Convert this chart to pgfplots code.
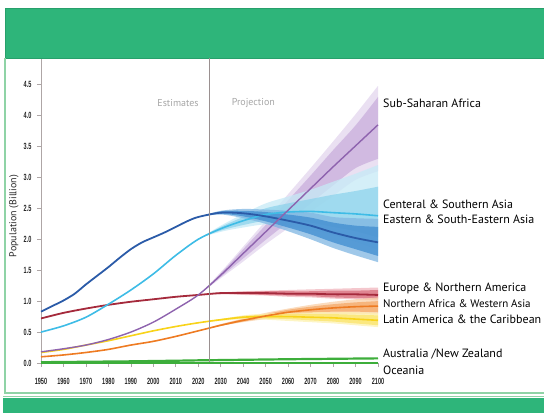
\documentclass[border=0pt]{standalone}
\usepackage{pgfplots}
\pgfplotsset{compat=1.18}
\usepackage{pgfplotstable}
\usepgfplotslibrary{fillbetween}
\usepackage{fontspec}
\setmainfont{PT Sans}
\newfontfamily\tickfont{Liberation Sans}
\definecolor{hdr}{HTML}{2EB57A}
\definecolor{hdrdark}{HTML}{27A06B}
\definecolor{frm}{HTML}{8FD3A6}
\definecolor{pl}{HTML}{8E63AE}\definecolor{pa}{HTML}{C9AEDC}\definecolor{pb}{HTML}{E3D5EE}
\definecolor{cl}{HTML}{3EBCE6}\definecolor{ca}{HTML}{8ED3EC}\definecolor{cb}{HTML}{C6EAF6}
\definecolor{el}{HTML}{2B5BA8}\definecolor{ea}{HTML}{3F8CD0}\definecolor{eb}{HTML}{7FB6E2}
\definecolor{rl}{HTML}{A52A3C}\definecolor{ra}{HTML}{D9707E}\definecolor{rb}{HTML}{F0B4BC}
\definecolor{ol}{HTML}{EE7B22}\definecolor{oa}{HTML}{F4A868}\definecolor{ob}{HTML}{F9D0A8}
\definecolor{yl}{HTML}{F8D31A}\definecolor{ya}{HTML}{FBE46A}\definecolor{yb}{HTML}{FDF1B0}
\definecolor{gl}{HTML}{3DAE3B}
\definecolor{vline}{HTML}{9A9090}

% year med lo80 hi80 lo95 hi95
\pgfplotstableread{
year med lo80 hi80 lo95 hi95
1950 0.83 0.83 0.83 0.83 0.83
1955 0.92 0.92 0.92 0.92 0.92
1960 1.01 1.01 1.01 1.01 1.01
1965 1.12 1.12 1.12 1.12 1.12
1970 1.27 1.27 1.27 1.27 1.27
1975 1.41 1.41 1.41 1.41 1.41
1980 1.55 1.55 1.55 1.55 1.55
1985 1.70 1.70 1.70 1.70 1.70
1990 1.84 1.84 1.84 1.84 1.84
1995 1.95 1.95 1.95 1.95 1.95
2000 2.03 2.03 2.03 2.03 2.03
2005 2.11 2.11 2.11 2.11 2.11
2010 2.20 2.20 2.20 2.20 2.20
2015 2.29 2.29 2.29 2.29 2.29
2020 2.36 2.36 2.36 2.36 2.36
2030 2.43 2.41 2.45 2.40 2.46
2040 2.42 2.37 2.46 2.34 2.49
2050 2.37 2.29 2.44 2.25 2.48
2060 2.30 2.19 2.40 2.13 2.46
2070 2.22 2.08 2.35 2.00 2.43
2080 2.11 1.95 2.27 1.86 2.36
2090 2.02 1.84 2.22 1.74 2.34
2100 1.95 1.73 2.20 1.63 2.33
}\tE
\pgfplotstableread{
year med lo80 hi80 lo95 hi95
1950 0.50 0.50 0.50 0.50 0.50
1960 0.60 0.60 0.60 0.60 0.60
1970 0.74 0.74 0.74 0.74 0.74
1980 0.95 0.95 0.95 0.95 0.95
1990 1.18 1.18 1.18 1.18 1.18
2000 1.44 1.44 1.44 1.44 1.44
2010 1.74 1.74 1.74 1.74 1.74
2020 2.00 2.00 2.00 2.00 2.00
2030 2.17 2.14 2.20 2.12 2.22
2040 2.30 2.23 2.36 2.19 2.41
2050 2.40 2.30 2.50 2.24 2.58
2060 2.44 2.30 2.58 2.21 2.69
2070 2.45 2.27 2.65 2.15 2.80
2080 2.43 2.20 2.72 2.07 2.93
2090 2.41 2.13 2.78 1.96 3.06
2100 2.38 2.03 2.85 1.83 3.20
}\tC
\pgfplotstableread{
year med lo80 hi80 lo95 hi95
1950 0.18 0.18 0.18 0.18 0.18
1960 0.23 0.23 0.23 0.23 0.23
1970 0.29 0.29 0.29 0.29 0.29
1980 0.38 0.38 0.38 0.38 0.38
1990 0.50 0.50 0.50 0.50 0.50
2000 0.66 0.66 0.66 0.66 0.66
2010 0.87 0.87 0.87 0.87 0.87
2020 1.10 1.10 1.10 1.10 1.10
2030 1.42 1.39 1.45 1.37 1.47
2040 1.77 1.69 1.84 1.64 1.88
2050 2.12 1.99 2.23 1.92 2.30
2060 2.47 2.28 2.63 2.18 2.73
2070 2.82 2.58 3.03 2.45 3.15
2080 3.17 2.87 3.44 2.70 3.58
2090 3.51 3.15 3.84 2.96 4.02
2100 3.85 3.30 4.30 3.10 4.48
}\tS
\pgfplotstableread{
year med lo80 hi80 lo95 hi95
1950 0.72 0.72 0.72 0.72 0.72
1960 0.81 0.81 0.81 0.81 0.81
1970 0.88 0.88 0.88 0.88 0.88
1980 0.94 0.94 0.94 0.94 0.94
1990 0.99 0.99 0.99 0.99 0.99
2000 1.03 1.03 1.03 1.03 1.03
2010 1.07 1.07 1.07 1.07 1.07
2020 1.10 1.10 1.10 1.10 1.10
2030 1.13 1.12 1.14 1.11 1.14
2040 1.13 1.11 1.15 1.10 1.16
2050 1.13 1.10 1.16 1.09 1.17
2060 1.12 1.09 1.16 1.07 1.18
2070 1.12 1.08 1.16 1.06 1.19
2080 1.11 1.06 1.17 1.04 1.20
2090 1.11 1.05 1.17 1.03 1.21
2100 1.10 1.04 1.18 1.01 1.22
}\tR
\pgfplotstableread{
year med lo80 hi80 lo95 hi95
1950 0.10 0.10 0.10 0.10 0.10
1960 0.13 0.13 0.13 0.13 0.13
1970 0.17 0.17 0.17 0.17 0.17
1980 0.22 0.22 0.22 0.22 0.22
1990 0.29 0.29 0.29 0.29 0.29
2000 0.35 0.35 0.35 0.35 0.35
2010 0.43 0.43 0.43 0.43 0.43
2020 0.52 0.52 0.52 0.52 0.52
2030 0.61 0.60 0.62 0.60 0.63
2040 0.69 0.67 0.71 0.66 0.72
2050 0.76 0.73 0.79 0.71 0.81
2060 0.82 0.78 0.86 0.75 0.88
2070 0.86 0.81 0.91 0.78 0.94
2080 0.89 0.83 0.95 0.79 0.99
2090 0.91 0.83 0.98 0.79 1.03
2100 0.92 0.82 1.00 0.78 1.06
}\tO
\pgfplotstableread{
year med lo80 hi80 lo95 hi95
1950 0.17 0.17 0.17 0.17 0.17
1960 0.22 0.22 0.22 0.22 0.22
1970 0.29 0.29 0.29 0.29 0.29
1980 0.36 0.36 0.36 0.36 0.36
1990 0.44 0.44 0.44 0.44 0.44
2000 0.52 0.52 0.52 0.52 0.52
2010 0.59 0.59 0.59 0.59 0.59
2020 0.65 0.65 0.65 0.65 0.65
2030 0.70 0.69 0.71 0.68 0.71
2040 0.74 0.72 0.76 0.71 0.77
2050 0.75 0.72 0.78 0.70 0.80
2060 0.75 0.71 0.79 0.68 0.81
2070 0.74 0.69 0.79 0.66 0.82
2080 0.73 0.67 0.79 0.64 0.82
2090 0.71 0.64 0.78 0.61 0.82
2100 0.69 0.61 0.77 0.58 0.81
}\tY
\pgfplotstableread{
year med
1950 0.013
1970 0.020
1990 0.027
2010 0.037
2020 0.043
2040 0.052
2060 0.061
2080 0.068
2100 0.075
}\tG

\newcommand{\band}[4]{%
  \addplot[draw=none, smooth, name path=#1l95] table[x=year,y=lo95]{#2};
  \addplot[draw=none, smooth, name path=#1h95] table[x=year,y=hi95]{#2};
  \addplot[draw=none, smooth, name path=#1l80] table[x=year,y=lo80]{#2};
  \addplot[draw=none, smooth, name path=#1h80] table[x=year,y=hi80]{#2};
  \addplot[fill=#4, fill opacity=0.75, draw=none] fill between[of=#1l95 and #1h95];
  \addplot[fill=#3, fill opacity=0.75, draw=none] fill between[of=#1l80 and #1h80];
}

\begin{document}
\begin{tikzpicture}
% header
\fill[hdr] (5pt,355pt) rectangle (544pt,405pt);
\draw[hdrdark, line width=0.8pt] (5pt,355pt) -- (5pt,405pt) -- (544pt,405pt) (5pt,355pt) -- (544pt,355pt);
% frame
\draw[frm, line width=1.5pt] (5pt,355pt) -- (5pt,20pt) -- (544pt,20pt);
\fill[hdr] (3pt,0pt) rectangle (544pt,15pt);
\draw[frm, line width=1pt] (3pt,17pt) -- (544pt,17pt);

\begin{axis}[
  at={(41pt,50pt)}, anchor=south west,
  scale only axis, width=337pt, height=305pt,
  xmin=1950, xmax=2100, ymin=0, ymax=4.93,
  axis x line=bottom, axis y line=left,
  axis line style={-},
  x axis line style={draw=gl, line width=1.4pt},
  y axis line style={draw=vline!80, line width=0.8pt},
  xtick={1950,1960,...,2100},
  ytick={0,0.5,1,1.5,2,2.5,3,3.5,4,4.5},
  tick style={vline!80, line width=0.7pt},
  tick align=outside, major tick length=4pt,
  /pgf/number format/assume math mode=true,
  xticklabel={\scalebox{0.62}[1]{\pgfmathprintnumber[fixed,precision=0,1000 sep={}]{\tick}}},
  yticklabel={\scalebox{0.62}[1]{\pgfmathprintnumber[fixed,fixed zerofill,precision=1]{\tick}}},
  tick label style={font=\tickfont\fontsize{9}{9}\selectfont\bfseries, text=black!85},
  xticklabel style={yshift=-8pt},
  yticklabel style={xshift=-2pt},
  clip=false,
]
\band{S}{\tS}{pa}{pb}
\band{C}{\tC}{ca}{cb}
\band{E}{\tE}{ea}{eb}
\band{R}{\tR}{ra}{rb}
\band{O}{\tO}{oa}{ob}
\band{Y}{\tY}{ya}{yb}
\addplot[gl, line width=2.2pt] table[x=year,y=med]{\tG};
\addplot[yl, line width=1.6pt, smooth] table[x=year,y=med]{\tY};
\addplot[ol, line width=1.6pt, smooth] table[x=year,y=med]{\tO};
\addplot[rl, line width=1.8pt, smooth] table[x=year,y=med]{\tR};
\addplot[cl, line width=1.6pt, smooth] table[x=year,y=med]{\tC};
\addplot[el, line width=1.8pt, smooth] table[x=year,y=med]{\tE};
\addplot[pl, line width=1.4pt, smooth] table[x=year,y=med]{\tS};
\draw[vline, line width=1.3pt] (axis cs:2025,0.02) -- (axis cs:2025,4.93);
\node[text=black!35, font=\fontsize{10}{10}\selectfont] at (axis cs:2011,4.21) {Estimates};
\node[text=black!35, font=\fontsize{10}{10}\selectfont] at (axis cs:2044.5,4.21) {Projection};
\end{axis}

\node[rotate=90, font=\fontsize{10}{10}\selectfont, text=black!85] at (14pt,197pt) {Population (Billion)};

\begin{scope}
\clip (380pt,30pt) rectangle (544pt,330pt);
\begin{scope}[every node/.style={anchor=west, inner sep=0pt, text=black, font=\fontsize{12}{12}\selectfont}]
\node at (383pt,310pt) {Sub-Saharan Africa};
\node at (383pt,209pt) {Centeral \& Southern Asia};
\node at (383pt,194pt) {Eastern \& South-Eastern Asia};
\node at (383pt,125pt) {Europe \& Northern America};
\node[font=\fontsize{11}{11}\selectfont] at (383pt,109pt) {Northern Africa \& Western Asia};
\node at (383pt,94pt) {Latin America \& the Caribbean};
\node at (383pt,59pt) {Australia /New Zealand};
\node at (383pt,43pt) {Oceania};
\end{scope}
\end{scope}
\pgfresetboundingbox
\useasboundingbox (0pt,0pt) rectangle (544pt,413pt);
\end{tikzpicture}
\end{document}
